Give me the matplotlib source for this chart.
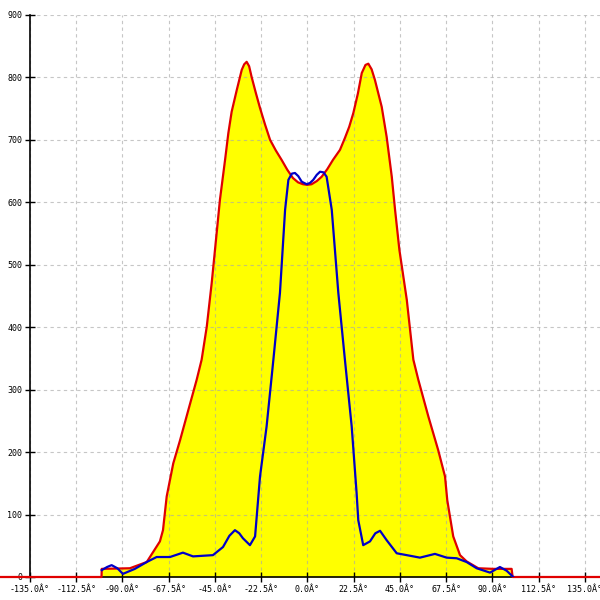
import numpy as np
import matplotlib.pyplot as plt

# outer envelope (red line, yellow fill)
env_deg = [-150, -100.2, -100.1, -86.4, -78.2, -71.8, -70.3, -68.5, -65.3, -62.0, -58.0,
           -53.9, -51.5, -49.0, -46.6, -45.0, -42.6, -40.1, -38.5, -36.9, -34.4, -32.0,
           -30.8, -29.6, -28.4, -27.2, -25.2, -23.1, -20.6, -18.2, -15.4, -12.6, -9.8,
           -7.1, -4.6, -2.2, 0.0, 2.0, 4.5, 6.9, 9.6, 12.4, 15.8, 18.2,
           20.3, 22.3, 24.5, 26.4, 28.2, 29.6, 31.2, 32.8, 36.1, 38.5, 41.0, 42.6, 44.7,
           48.3, 51.5, 53.9, 58.8, 63.6, 66.9, 68.0, 70.9, 74.2, 77.4, 83.1, 90.4, 99.3,
           99.8, 150]
env_val = [0, 0, 13, 14, 24, 57, 75, 129, 182, 219, 267,
           316, 348, 401, 471, 524, 604, 668, 711, 745, 780, 812,
           821, 825, 818, 801, 776, 751, 724, 700, 683, 668, 652,
           639, 632, 629, 628, 629, 634, 641, 653, 668, 684, 703,
           721, 743, 774, 807, 820, 822, 813, 796, 753, 705, 641, 588, 524,
           444, 348, 316, 257, 203, 161, 123, 65, 35, 25, 14, 13, 13,
           0, 0]

# inner pattern (blue line)
pat_deg = [-100.1, -97.5, -95.3, -92.5, -89.8, -84.0, -78.2, -73.4, -66.9, -60.6, -55.7,
           -46.0, -41.1, -38.0, -35.3, -33.2, -31.4, -28.0, -25.5, -23.1, -19.9, -16.6,
           -13.4, -10.9, -9.3, -7.6, -6.1, -4.5, -2.8, -0.4, 1.2, 2.8, 4.5, 6.1, 7.8,
           9.3, 11.8, 15.0, 18.2, 21.5, 23.9, 24.7, 27.1, 30.4, 33.0, 35.3, 38.5, 43.4,
           49.9, 54.7, 62.0, 67.7, 72.6, 77.4, 82.3, 88.8, 93.6, 96.9, 100.1]
pat_val = [11, 16, 19, 14, 5, 13, 24, 32, 32, 39, 33,
           35, 48, 66, 75, 70, 62, 51, 65, 161, 241, 348,
           455, 588, 636, 646, 647, 642, 633, 629, 631, 636, 644, 649, 648,
           641, 588, 455, 348, 241, 134, 91, 51, 57, 70, 74, 59, 38,
           34, 31, 37, 31, 30, 24, 14, 7, 16, 10, 0]

xticks = np.arange(-135, 135.1, 22.5)
yticks = np.arange(0, 901, 100)

fig = plt.figure(figsize=(6, 6), dpi=100)
ax = fig.add_axes([0.05, 23 / 600, 0.95, 562 / 600])

env_deg = np.array(env_deg)
env_val = np.array(env_val)
inside = (env_deg > -101) & (env_deg < 101)
ax.fill_between(env_deg[inside], env_val[inside], 0, color='#ffff00', linewidth=0, zorder=1)
ax.plot(env_deg, env_val, color='#e00000', lw=1.6, zorder=2.6, clip_on=False)
ax.plot(pat_deg, pat_val, color='#0000c8', lw=1.6, zorder=3)

ax.set_xlim(-135, 142.3)
ax.set_ylim(0, 900)
ax.set_xticks(xticks)
ax.set_xticklabels([f'{v:.1f}Â°' for v in xticks])
ax.set_yticks(yticks)
ax.set_yticklabels([str(v) for v in yticks])

ax.spines['top'].set_visible(False)
ax.spines['right'].set_visible(False)
ax.spines['left'].set_linewidth(1.2)
ax.spines['bottom'].set_linewidth(1.2)

ax.grid(True, color='#a8a8a8', alpha=0.65, linestyle=(0, (3, 3)), linewidth=0.8)
ax.set_axisbelow('line')
ax.tick_params(direction='inout', length=7, width=1, labelsize=6, pad=2)
for lab in ax.get_xticklabels() + ax.get_yticklabels():
    lab.set_family('DejaVu Sans Mono')

fig.savefig('out.png', dpi=100)
